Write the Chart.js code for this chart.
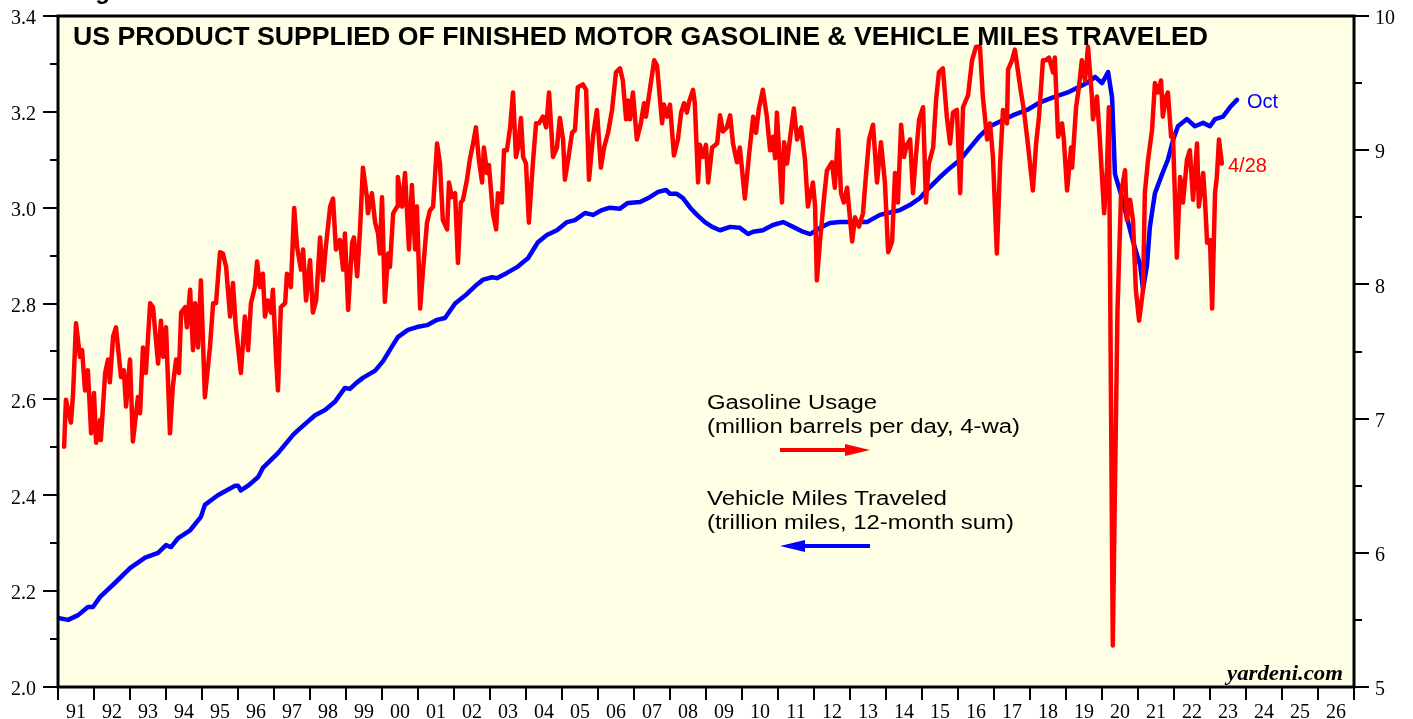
<!DOCTYPE html>
<html>
<head>
<meta charset="utf-8">
<script src="https://cdn.jsdelivr.net/npm/chart.js@4.4.0/dist/chart.umd.min.js"></script>
<style>
  html, body { margin: 0; padding: 0; background: #ffffff; }
  #wrap { width: 1413px; height: 719px; }
</style>
</head>
<body>
<div id="wrap"><canvas id="gasChart" width="1413" height="719"></canvas></div>
<script>
// ======================================================
// Data
// ======================================================

// Gasoline usage, million barrels per day (4-wa), right axis
const gasDates = [
  1991.17,1991.22,1991.36,1991.42,1991.50,1991.61,1991.67,1991.75,1991.83,1991.92,
  1992.00,1992.06,1992.17,1992.19,1992.31,1992.39,1992.44,1992.53,1992.61,1992.75,1992.83,1992.89,
  1993.00,1993.08,1993.22,1993.28,1993.36,1993.44,1993.56,1993.64,1993.69,1993.78,1993.86,1993.92,
  1994.00,1994.11,1994.19,1994.28,1994.36,1994.42,1994.53,1994.58,1994.67,1994.75,1994.81,1994.89,1994.97,
  1995.08,1995.22,1995.31,1995.39,1995.50,1995.58,1995.67,1995.78,1995.86,1995.94,
  1996.08,1996.19,1996.28,1996.36,1996.47,1996.53,1996.61,1996.69,1996.75,1996.83,1996.92,1996.97,
  1997.06,1997.11,1997.19,1997.31,1997.36,1997.47,1997.56,1997.64,1997.75,1997.81,1997.89,
  1998.00,1998.08,1998.17,1998.28,1998.36,1998.44,1998.56,1998.64,1998.72,1998.83,1998.92,1998.97,
  1999.06,1999.17,1999.22,1999.31,1999.39,1999.47,1999.58,1999.61,1999.72,1999.81,1999.89,1999.94,
  2000.00,2000.08,2000.17,2000.22,2000.31,2000.42,2000.44,2000.56,2000.64,2000.75,2000.83,2000.92,2000.97,
  2001.06,2001.14,2001.25,2001.33,2001.42,2001.53,2001.61,2001.69,2001.81,2001.86,2001.94,
  2002.03,2002.11,2002.19,2002.25,2002.36,2002.44,2002.53,2002.61,2002.69,2002.78,2002.83,2002.92,2002.97,
  2003.08,2003.17,2003.22,2003.33,2003.39,2003.47,2003.56,2003.64,2003.72,2003.78,2003.86,2003.92,
  2004.00,2004.08,2004.19,2004.28,2004.36,2004.47,2004.56,2004.64,2004.75,2004.86,2004.94,
  2005.03,2005.08,2005.17,2005.28,2005.36,2005.44,2005.58,2005.67,2005.75,2005.86,2005.97,
  2006.08,2006.17,2006.28,2006.39,2006.50,2006.61,2006.69,2006.78,2006.83,2006.89,2006.97,
  2007.08,2007.19,2007.28,2007.33,2007.44,2007.56,2007.64,2007.78,2007.83,2007.92,
  2008.00,2008.11,2008.22,2008.31,2008.39,2008.47,2008.53,2008.64,2008.69,2008.78,2008.83,2008.92,
  2009.00,2009.06,2009.17,2009.31,2009.39,2009.47,2009.58,2009.67,2009.75,2009.86,2009.94,
  2010.08,2010.19,2010.31,2010.39,2010.47,2010.58,2010.69,2010.78,2010.86,2010.92,2010.97,
  2011.11,2011.17,2011.25,2011.33,2011.44,2011.53,2011.64,2011.75,2011.83,2011.97,
  2012.03,2012.08,2012.17,2012.28,2012.36,2012.50,2012.58,2012.67,2012.75,2012.83,2012.92,
  2013.06,2013.14,2013.25,2013.36,2013.44,2013.53,2013.64,2013.75,2013.86,2013.97,
  2014.06,2014.17,2014.25,2014.33,2014.42,2014.50,2014.58,2014.67,2014.75,2014.83,2014.92,
  2015.03,2015.11,2015.19,2015.31,2015.39,2015.47,2015.58,2015.69,2015.78,2015.86,2015.97,
  2016.06,2016.14,2016.28,2016.39,2016.50,2016.61,2016.69,2016.81,2016.89,2016.97,
  2017.08,2017.17,2017.25,2017.36,2017.39,2017.50,2017.58,2017.67,2017.75,2017.83,2017.94,
  2018.08,2018.17,2018.25,2018.36,2018.44,2018.53,2018.64,2018.69,2018.78,2018.89,2018.94,
  2019.03,2019.14,2019.17,2019.28,2019.36,2019.44,2019.53,2019.61,2019.72,2019.75,2019.86,2019.94,
  2020.06,2020.14,2020.19,2020.30,2020.35,2020.43,2020.53,2020.64,2020.69,2020.78,2020.86,2020.94,
  2021.03,2021.14,2021.19,2021.28,2021.39,2021.47,2021.56,2021.64,2021.69,2021.78,2021.83,2021.92,2021.97,
  2022.08,2022.17,2022.25,2022.36,2022.44,2022.53,2022.64,2022.69,2022.81,2022.86,2022.92,
  2023.00,2023.06,2023.14,2023.19,2023.25,2023.33
];

const gasValues = [
  6.79,7.14,6.97,7.19,7.71,7.46,7.51,7.21,7.36,6.89,
  7.19,6.82,6.99,6.84,7.34,7.44,7.27,7.61,7.68,7.31,7.36,7.09,
  7.44,6.83,7.16,7.04,7.53,7.34,7.86,7.83,7.68,7.41,7.73,7.46,
  7.68,6.89,7.24,7.44,7.34,7.79,7.83,7.68,7.96,7.51,7.86,7.53,8.03,
  7.16,7.53,7.86,7.86,8.24,8.23,8.13,7.76,8.01,7.68,
  7.34,7.76,7.51,7.86,7.98,8.17,7.98,8.08,7.76,7.88,7.79,7.96,
  7.44,7.21,7.83,7.86,8.08,7.98,8.57,8.28,8.11,8.26,7.88,
  8.18,7.79,7.88,8.35,8.03,8.28,8.58,8.64,8.26,8.33,8.11,8.38,
  7.81,8.31,8.35,8.06,8.41,8.87,8.65,8.53,8.68,8.46,8.38,8.23,
  8.65,7.87,8.23,8.13,8.53,8.58,8.80,8.58,8.83,8.26,8.74,8.26,8.58,
  7.82,8.11,8.46,8.55,8.58,9.05,8.90,8.48,8.41,8.76,8.65,
  8.68,8.16,8.61,8.63,8.78,8.93,9.05,9.17,8.93,8.76,9.02,8.83,8.89,
  8.53,8.41,8.68,8.61,9.00,9.00,9.17,9.43,8.95,9.02,9.24,8.95,
  8.90,8.46,8.90,9.20,9.20,9.25,9.17,9.43,8.95,9.02,9.24,
  9.08,8.78,8.93,9.13,9.15,9.47,9.49,9.45,8.78,9.10,9.30,
  8.87,9.02,9.13,9.30,9.58,9.61,9.52,9.23,9.37,9.23,9.43,
  9.08,9.20,9.35,9.25,9.45,9.67,9.63,9.20,9.34,9.25,
  9.34,8.96,9.08,9.28,9.35,9.28,9.36,9.45,9.35,8.76,9.04,8.95,
  9.04,8.76,9.02,9.05,9.26,9.14,9.17,9.26,9.05,8.91,9.02,
  8.64,8.95,9.25,9.13,9.31,9.45,9.25,9.00,9.10,8.94,9.28,
  8.61,9.06,8.90,9.08,9.31,9.08,9.17,8.93,8.58,8.76,
  8.58,8.03,8.33,8.65,8.85,8.91,8.72,9.15,8.68,8.61,8.72,
  8.32,8.50,8.43,8.53,8.80,9.08,9.19,8.76,9.06,8.76,
  8.24,8.32,8.83,8.61,9.19,8.95,9.04,9.08,8.68,8.95,9.23,
  9.32,8.61,8.90,9.02,9.37,9.58,9.61,9.25,9.05,9.28,9.30,
  8.68,9.32,9.41,9.67,9.77,9.77,9.40,9.08,9.20,8.95,
  8.23,8.90,9.30,9.20,9.60,9.67,9.75,9.58,9.43,9.30,9.05,
  8.70,9.05,9.25,9.67,9.67,9.69,9.58,9.69,9.10,9.20,9.08,
  8.70,9.02,8.87,9.32,9.47,9.67,9.52,9.77,9.40,9.23,9.40,9.08,
  8.53,8.87,9.32,5.31,6.30,7.80,8.68,8.85,8.48,8.63,8.48,7.96,
  7.73,7.96,8.68,8.93,9.15,9.50,9.43,9.52,9.25,9.40,9.43,9.10,9.12,
  8.20,8.80,8.61,8.93,9.00,8.63,9.05,8.58,8.83,8.63,8.31,
  8.33,7.82,8.68,8.80,9.08,8.90
];

// Vehicle miles traveled, trillion miles (12-month sum), left axis
const vmtDates = [
  1991.00,1991.28,1991.56,1991.83,1991.97,
  1992.17,1992.58,
  1993.00,1993.42,1993.78,
  1994.00,1994.14,1994.33,1994.67,1994.97,
  1995.08,1995.44,1995.92,
  1996.00,1996.08,1996.28,1996.56,1996.69,
  1997.11,1997.53,1997.67,
  1998.14,1998.42,1998.69,1998.97,
  1999.11,1999.28,1999.47,1999.81,
  2000.03,2000.25,2000.44,2000.72,2000.97,
  2001.25,2001.53,2001.75,
  2002.03,2002.36,2002.64,2002.81,
  2003.06,2003.19,2003.47,2003.75,
  2004.06,2004.33,2004.58,2004.86,
  2005.14,2005.36,2005.64,2005.86,
  2006.11,2006.33,2006.61,2006.83,
  2007.17,2007.44,2007.67,2007.89,
  2008.00,2008.19,2008.36,2008.56,2008.75,2008.97,
  2009.17,2009.39,2009.67,2009.94,
  2010.17,2010.31,2010.58,2010.86,
  2011.14,2011.42,2011.69,2011.89,
  2012.17,2012.44,2012.72,
  2013.08,2013.47,2013.83,
  2014.11,2014.39,2014.67,2014.94,
  2015.22,2015.50,2015.78,
  2016.06,2016.33,2016.61,2016.89,
  2017.17,2017.53,2017.92,
  2018.28,2018.64,
  2019.03,2019.31,2019.58,2019.81,
  2020.00,2020.17,2020.28,2020.36,2020.56,2020.69,2020.86,
  2021.06,2021.14,2021.25,2021.33,2021.47,2021.67,2021.83,2021.97,
  2022.11,2022.36,2022.58,2022.81,
  2023.00,2023.14,2023.36,2023.56,2023.75
];

const vmtValues = [
  2.144,2.140,2.150,2.167,2.167,
  2.188,2.217,
  2.248,2.270,2.280,
  2.296,2.292,2.310,2.327,2.355,
  2.380,2.400,2.420,
  2.420,2.410,2.420,2.438,2.457,
  2.488,2.526,2.536,
  2.567,2.578,2.595,2.624,
  2.622,2.634,2.645,2.660,
  2.680,2.707,2.730,2.745,2.751,
  2.755,2.766,2.770,
  2.800,2.820,2.840,2.850,
  2.855,2.853,2.864,2.876,
  2.895,2.928,2.943,2.953,
  2.970,2.974,2.989,2.985,
  2.995,3.000,2.998,3.010,
  3.012,3.022,3.033,3.037,
  3.029,3.029,3.020,3.000,2.985,2.970,
  2.960,2.953,2.960,2.958,
  2.945,2.950,2.953,2.964,
  2.970,2.960,2.950,2.945,
  2.958,2.968,2.970,
  2.970,2.970,2.985,
  2.990,2.995,3.006,3.020,
  3.043,3.064,3.083,
  3.100,3.125,3.150,3.170,
  3.180,3.193,3.204,
  3.220,3.230,
  3.240,3.250,3.260,3.273,
  3.260,3.283,3.230,3.070,3.020,2.980,2.930,
  2.880,2.830,2.880,2.960,3.030,3.070,3.100,3.140,
  3.170,3.185,3.170,3.177,
  3.170,3.185,3.190,3.210,3.225
];

// Axis ticks
const yearTicks = [];
for (let y = 1991; y <= 2026; y++) yearTicks.push(y);
const leftTicks = [2.0, 2.2, 2.4, 2.6, 2.8, 3.0, 3.2, 3.4];
const rightTicks = [5, 6, 7, 8, 9, 10];

// ======================================================
// Plugins
// ======================================================

const panelBackground = {
    id: "panelBackground",
    beforeDraw(chart) {
        const { ctx, chartArea: a } = chart;
        ctx.save();
        ctx.fillStyle = "#ffffe6";
        ctx.fillRect(a.left, a.top, a.right - a.left, a.bottom - a.top);
        ctx.restore();
    }
};

function stretchText(ctx, text, x, y, font, width) {
    ctx.save();
    ctx.font = font;
    let w = ctx.measureText(text).width;
    let sx = width ? width / w : 1;
    ctx.translate(x, y);
    ctx.scale(sx, 1);
    ctx.fillText(text, 0, 0);
    ctx.restore();
}

function arrow(ctx, x1, x2, y, color, headLeft) {
    ctx.save();
    ctx.strokeStyle = color;
    ctx.fillStyle = color;
    ctx.lineWidth = 4;
    ctx.beginPath();
    if (headLeft) {
        ctx.moveTo(x1 + 20, y); ctx.lineTo(x2, y);
    } else {
        ctx.moveTo(x1, y); ctx.lineTo(x2 - 20, y);
    }
    ctx.stroke();
    ctx.beginPath();
    if (headLeft) {
        ctx.moveTo(x1, y); ctx.lineTo(x1 + 25, y - 6); ctx.lineTo(x1 + 25, y + 6);
    } else {
        ctx.moveTo(x2, y); ctx.lineTo(x2 - 25, y - 6); ctx.lineTo(x2 - 25, y + 6);
    }
    ctx.closePath();
    ctx.fill();
    ctx.restore();
}

const frameAndNotes = {
    id: "frameAndNotes",
    afterDraw(chart) {
        const { ctx, chartArea: a, scales } = chart;
        const xs = scales.x, yl = scales.yL, yr = scales.yR;

        ctx.save();
        // frame
        ctx.strokeStyle = "#000";
        ctx.lineWidth = 3;
        ctx.strokeRect(a.left, a.top, a.right - a.left, a.bottom - a.top);

        // tick marks
        ctx.lineWidth = 2;
        ctx.beginPath();
        for (let i = 0; i <= 14; i++) {
            let y = Math.round(yl.getPixelForValue(2 + i * 0.1));
            let len = i % 2 === 0 ? 15 : 8;
            ctx.moveTo(a.left - len, y); ctx.lineTo(a.left, y);
        }
        for (let i = 0; i <= 10; i++) {
            let y = Math.round(yr.getPixelForValue(5 + i * 0.5));
            let len = i % 2 === 0 ? 15 : 8;
            ctx.moveTo(a.right, y); ctx.lineTo(a.right + len, y);
        }
        for (let yr2 = 1991; yr2 <= 2027; yr2++) {
            let x = Math.round(xs.getPixelForValue(yr2));
            ctx.moveTo(x, a.bottom); ctx.lineTo(x, a.bottom + 13);
        }
        ctx.stroke();

        // titles and notes
        ctx.fillStyle = "#000";
        ctx.textBaseline = "alphabetic";
        stretchText(ctx, "Figure", 74, -1, "bold 24px 'Liberation Sans', Arial", 0);
        stretchText(ctx, "US PRODUCT SUPPLIED OF FINISHED MOTOR GASOLINE & VEHICLE MILES TRAVELED",
            73, 45, "bold 26px 'Liberation Sans', Arial", 1135);

        const lf = "20px 'Liberation Sans', Arial";
        stretchText(ctx, "Gasoline Usage", 707, 409, lf, 170);
        stretchText(ctx, "(million barrels per day, 4-wa)", 707, 433, lf, 313);
        stretchText(ctx, "Vehicle Miles Traveled", 707, 505, lf, 240);
        stretchText(ctx, "(trillion miles, 12-month sum)", 707, 529, lf, 307);
        arrow(ctx, 780, 870, 450, "#ff0000", false);
        arrow(ctx, 780, 870, 546, "#0000ff", true);

        ctx.fillStyle = "#0000ff";
        stretchText(ctx, "Oct", 1247, 108, lf, 0);
        ctx.fillStyle = "#ff0000";
        stretchText(ctx, "4/28", 1228, 172, lf, 0);

        ctx.fillStyle = "#000";
        stretchText(ctx, "yardeni.com", 1227, 680, "italic bold 22px 'Liberation Serif', 'Times New Roman'", 116);
        ctx.restore();
    }
};

// ======================================================
// Chart
// ======================================================

function makePoints(dates, values) {
    return dates.map((d, i) => ({ x: d, y: values[i] }));
}

function fitY(width) {
    return s => {
        s.width = width;
        s.paddingTop = 0;
        s.paddingBottom = 0;
    };
}

const tickFont = { family: "'Liberation Serif', 'Times New Roman', serif", size: 20 };

new Chart(document.getElementById("gasChart"), {
    type: "line",
    data: {
        datasets: [
            {
                label: "Gasoline Usage",
                data: makePoints(gasDates, gasValues),
                borderColor: "#ff0000",
                borderWidth: 4.5,
                pointRadius: 0,
                borderJoinStyle: "round",
                borderCapStyle: "round",
                tension: 0,
                yAxisID: "yR"
            },
            {
                label: "Vehicle Miles Traveled",
                data: makePoints(vmtDates, vmtValues),
                borderColor: "#0000ff",
                borderWidth: 4.5,
                pointRadius: 0,
                borderJoinStyle: "round",
                borderCapStyle: "round",
                tension: 0,
                yAxisID: "yL"
            }
        ]
    },
    options: {
        responsive: false,
        animation: false,
        devicePixelRatio: 1,
        layout: { padding: { top: 16, left: 0, right: 0, bottom: 0 } },
        plugins: { legend: { display: false }, tooltip: { enabled: false } },
        scales: {
            x: {
                type: "linear",
                position: "bottom",
                min: 1991,
                max: 2027,
                grid: { display: false, drawTicks: false },
                border: { display: false },
                afterBuildTicks: s => { s.ticks = yearTicks.map(y => ({ value: y + 0.5 })); },
                afterFit: s => { s.height = 32; s.paddingLeft = 0; s.paddingRight = 0; },
                ticks: {
                    autoSkip: false,
                    maxRotation: 0,
                    padding: 14,
                    color: "#000",
                    font: tickFont,
                    callback: v => String(Math.floor(v) % 100).padStart(2, "0")
                }
            },
            yL: {
                type: "linear",
                position: "left",
                min: 2.0,
                max: 3.4,
                grid: { display: false, drawTicks: false },
                border: { display: false },
                afterBuildTicks: s => { s.ticks = leftTicks.map(v => ({ value: v })); },
                afterFit: fitY(58),
                ticks: { padding: 22, labelOffset: 3, color: "#000", font: tickFont, callback: v => v.toFixed(1) }
            },
            yR: {
                type: "linear",
                position: "right",
                min: 5,
                max: 10,
                grid: { display: false, drawTicks: false },
                border: { display: false },
                afterBuildTicks: s => { s.ticks = rightTicks.map(v => ({ value: v })); },
                afterFit: fitY(59),
                ticks: { padding: 21, labelOffset: 3, color: "#000", font: tickFont, callback: v => String(v) }
            }
        }
    },
    plugins: [panelBackground, frameAndNotes]
});
</script>
</body>
</html>
